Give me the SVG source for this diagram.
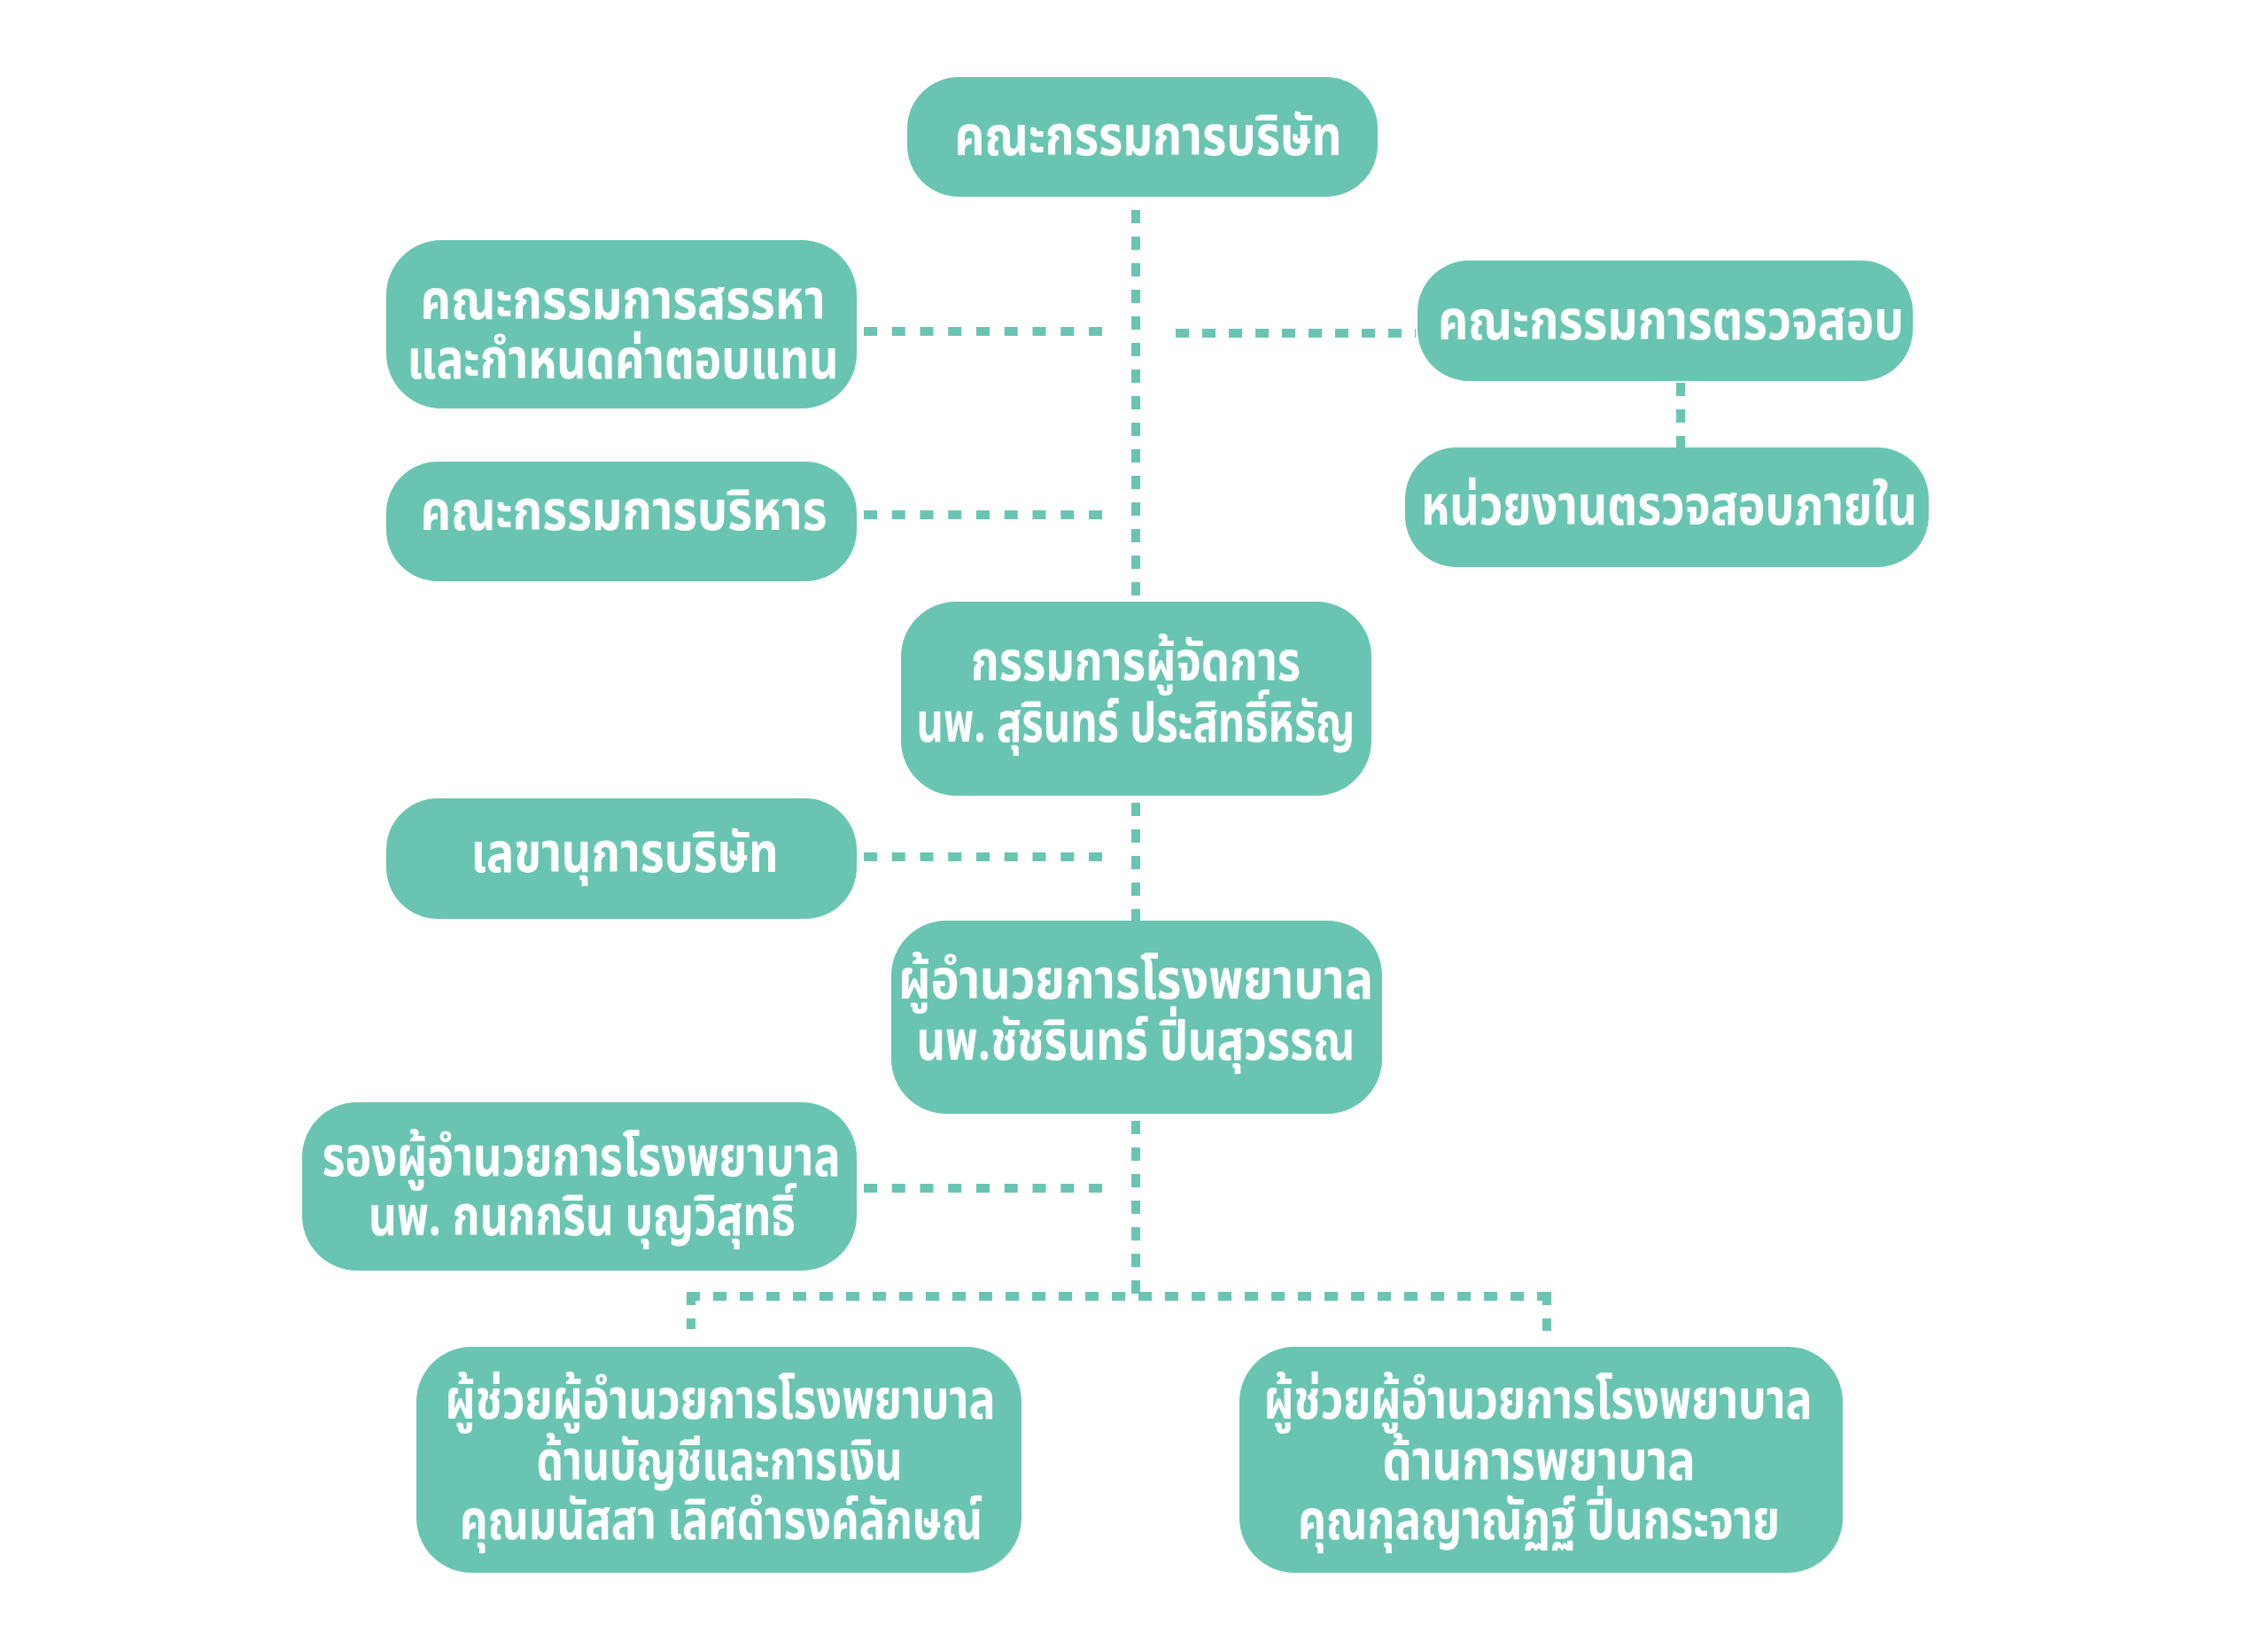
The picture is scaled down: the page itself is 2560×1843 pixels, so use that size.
<svg xmlns="http://www.w3.org/2000/svg" width="2560" height="1843" viewBox="0 0 2560 1843">
<style>
.n{fill:#69C5B1}
.t{fill:#ffffff;font-family:'Noto Sans Thai','Noto Sans','DejaVu Sans',sans-serif;font-weight:700;font-size:62px;text-anchor:middle}
.c{stroke:#69C5B1;stroke-width:10;stroke-dasharray:15 15;fill:none}
.h{stroke-dasharray:15 16.75}
</style>
<rect width="2560" height="1843" fill="#ffffff"/>
<g id="connectors">
<path class="c" d="M1282 237V679"/>
<path class="c" d="M1282 906V1039"/>
<path class="c" d="M1282 1265V1463"/>
<path class="c h" d="M1244 374H975"/>
<path class="c" d="M1327 376H1598"/>
<path class="c h" d="M1244 581H975"/>
<path class="c h" d="M1244 967H975"/>
<path class="c h" d="M1244 1341H975"/>
<path class="c" d="M1897 432V505"/>
<path class="c" d="M775 1463H1751"/>
<path class="c" d="M780 1458V1500"/>
<path class="c" d="M1746 1458V1502"/>
</g>
<g id="board">
<rect class="n" x="1024" y="87" width="531" height="135" rx="58"/>
<text class="t" x="1296" y="175" textLength="437" lengthAdjust="spacingAndGlyphs">คณะกรรมการบริษัท</text>
</g>
<g id="nomination">
<rect class="n" x="436" y="271" width="531" height="190" rx="62"/>
<text class="t" x="703" y="360" textLength="457" lengthAdjust="spacingAndGlyphs">คณะกรรมการสรรหา</text>
<text class="t" x="703" y="427" textLength="487" lengthAdjust="spacingAndGlyphs">และกำหนดค่าตอบแทน</text>
</g>
<g id="audit">
<rect class="n" x="1600" y="294" width="559" height="136" rx="58"/>
<text class="t" x="1886" y="383" textLength="526" lengthAdjust="spacingAndGlyphs">คณะกรรมการตรวจสอบ</text>
</g>
<g id="internal-audit">
<rect class="n" x="1586" y="505" width="591" height="135" rx="58"/>
<text class="t" x="1884" y="592" textLength="560" lengthAdjust="spacingAndGlyphs">หน่วยงานตรวจสอบภายใน</text>
</g>
<g id="executive">
<rect class="n" x="436" y="521" width="531" height="135" rx="58"/>
<text class="t" x="704" y="598" textLength="459" lengthAdjust="spacingAndGlyphs">คณะกรรมการบริหาร</text>
</g>
<g id="md">
<rect class="n" x="1017" y="679" width="531" height="219" rx="62"/>
<text class="t" x="1282" y="768" textLength="372" lengthAdjust="spacingAndGlyphs">กรรมการผู้จัดการ</text>
<text class="t" x="1282" y="837" textLength="495" lengthAdjust="spacingAndGlyphs">นพ. สุรินทร์ ประสิทธิ์หิรัญ</text>
</g>
<g id="secretary">
<rect class="n" x="436" y="901" width="531" height="136" rx="58"/>
<text class="t" x="705" y="984" textLength="347" lengthAdjust="spacingAndGlyphs">เลขานุการบริษัท</text>
</g>
<g id="director">
<rect class="n" x="1006" y="1039" width="554" height="218" rx="62"/>
<text class="t" x="1282" y="1127" textLength="536" lengthAdjust="spacingAndGlyphs">ผู้อำนวยการโรงพยาบาล</text>
<text class="t" x="1282" y="1196" textLength="495" lengthAdjust="spacingAndGlyphs">นพ.ชัชรินทร์ ปิ่นสุวรรณ</text>
</g>
<g id="deputy">
<rect class="n" x="341" y="1244" width="626" height="190" rx="62"/>
<text class="t" x="656" y="1327" textLength="585" lengthAdjust="spacingAndGlyphs">รองผู้อำนวยการโรงพยาบาล</text>
<text class="t" x="657" y="1394" textLength="482" lengthAdjust="spacingAndGlyphs">นพ. กนกกริน บุญวิสุทธิ์</text>
</g>
<g id="asst-finance">
<rect class="n" x="470" y="1520" width="683" height="255" rx="62"/>
<text class="t" x="813" y="1601" textLength="621" lengthAdjust="spacingAndGlyphs">ผู้ช่วยผู้อำนวยการโรงพยาบาล</text>
<text class="t" x="812" y="1670" textLength="413" lengthAdjust="spacingAndGlyphs">ด้านบัญชีและการเงิน</text>
<text class="t" x="814" y="1737" textLength="590" lengthAdjust="spacingAndGlyphs">คุณมนัสสา เลิศดำรงค์ลักษณ์</text>
</g>
<g id="asst-nursing">
<rect class="n" x="1399" y="1520" width="681" height="255" rx="62"/>
<text class="t" x="1736" y="1601" textLength="619" lengthAdjust="spacingAndGlyphs">ผู้ช่วยผู้อำนวยการโรงพยาบาล</text>
<text class="t" x="1737" y="1670" textLength="353" lengthAdjust="spacingAndGlyphs">ด้านการพยาบาล</text>
<text class="t" x="1737" y="1737" textLength="544" lengthAdjust="spacingAndGlyphs">คุณกุลญาณัฏฐ์ ปิ่นกระจาย</text>
</g>
</svg>
